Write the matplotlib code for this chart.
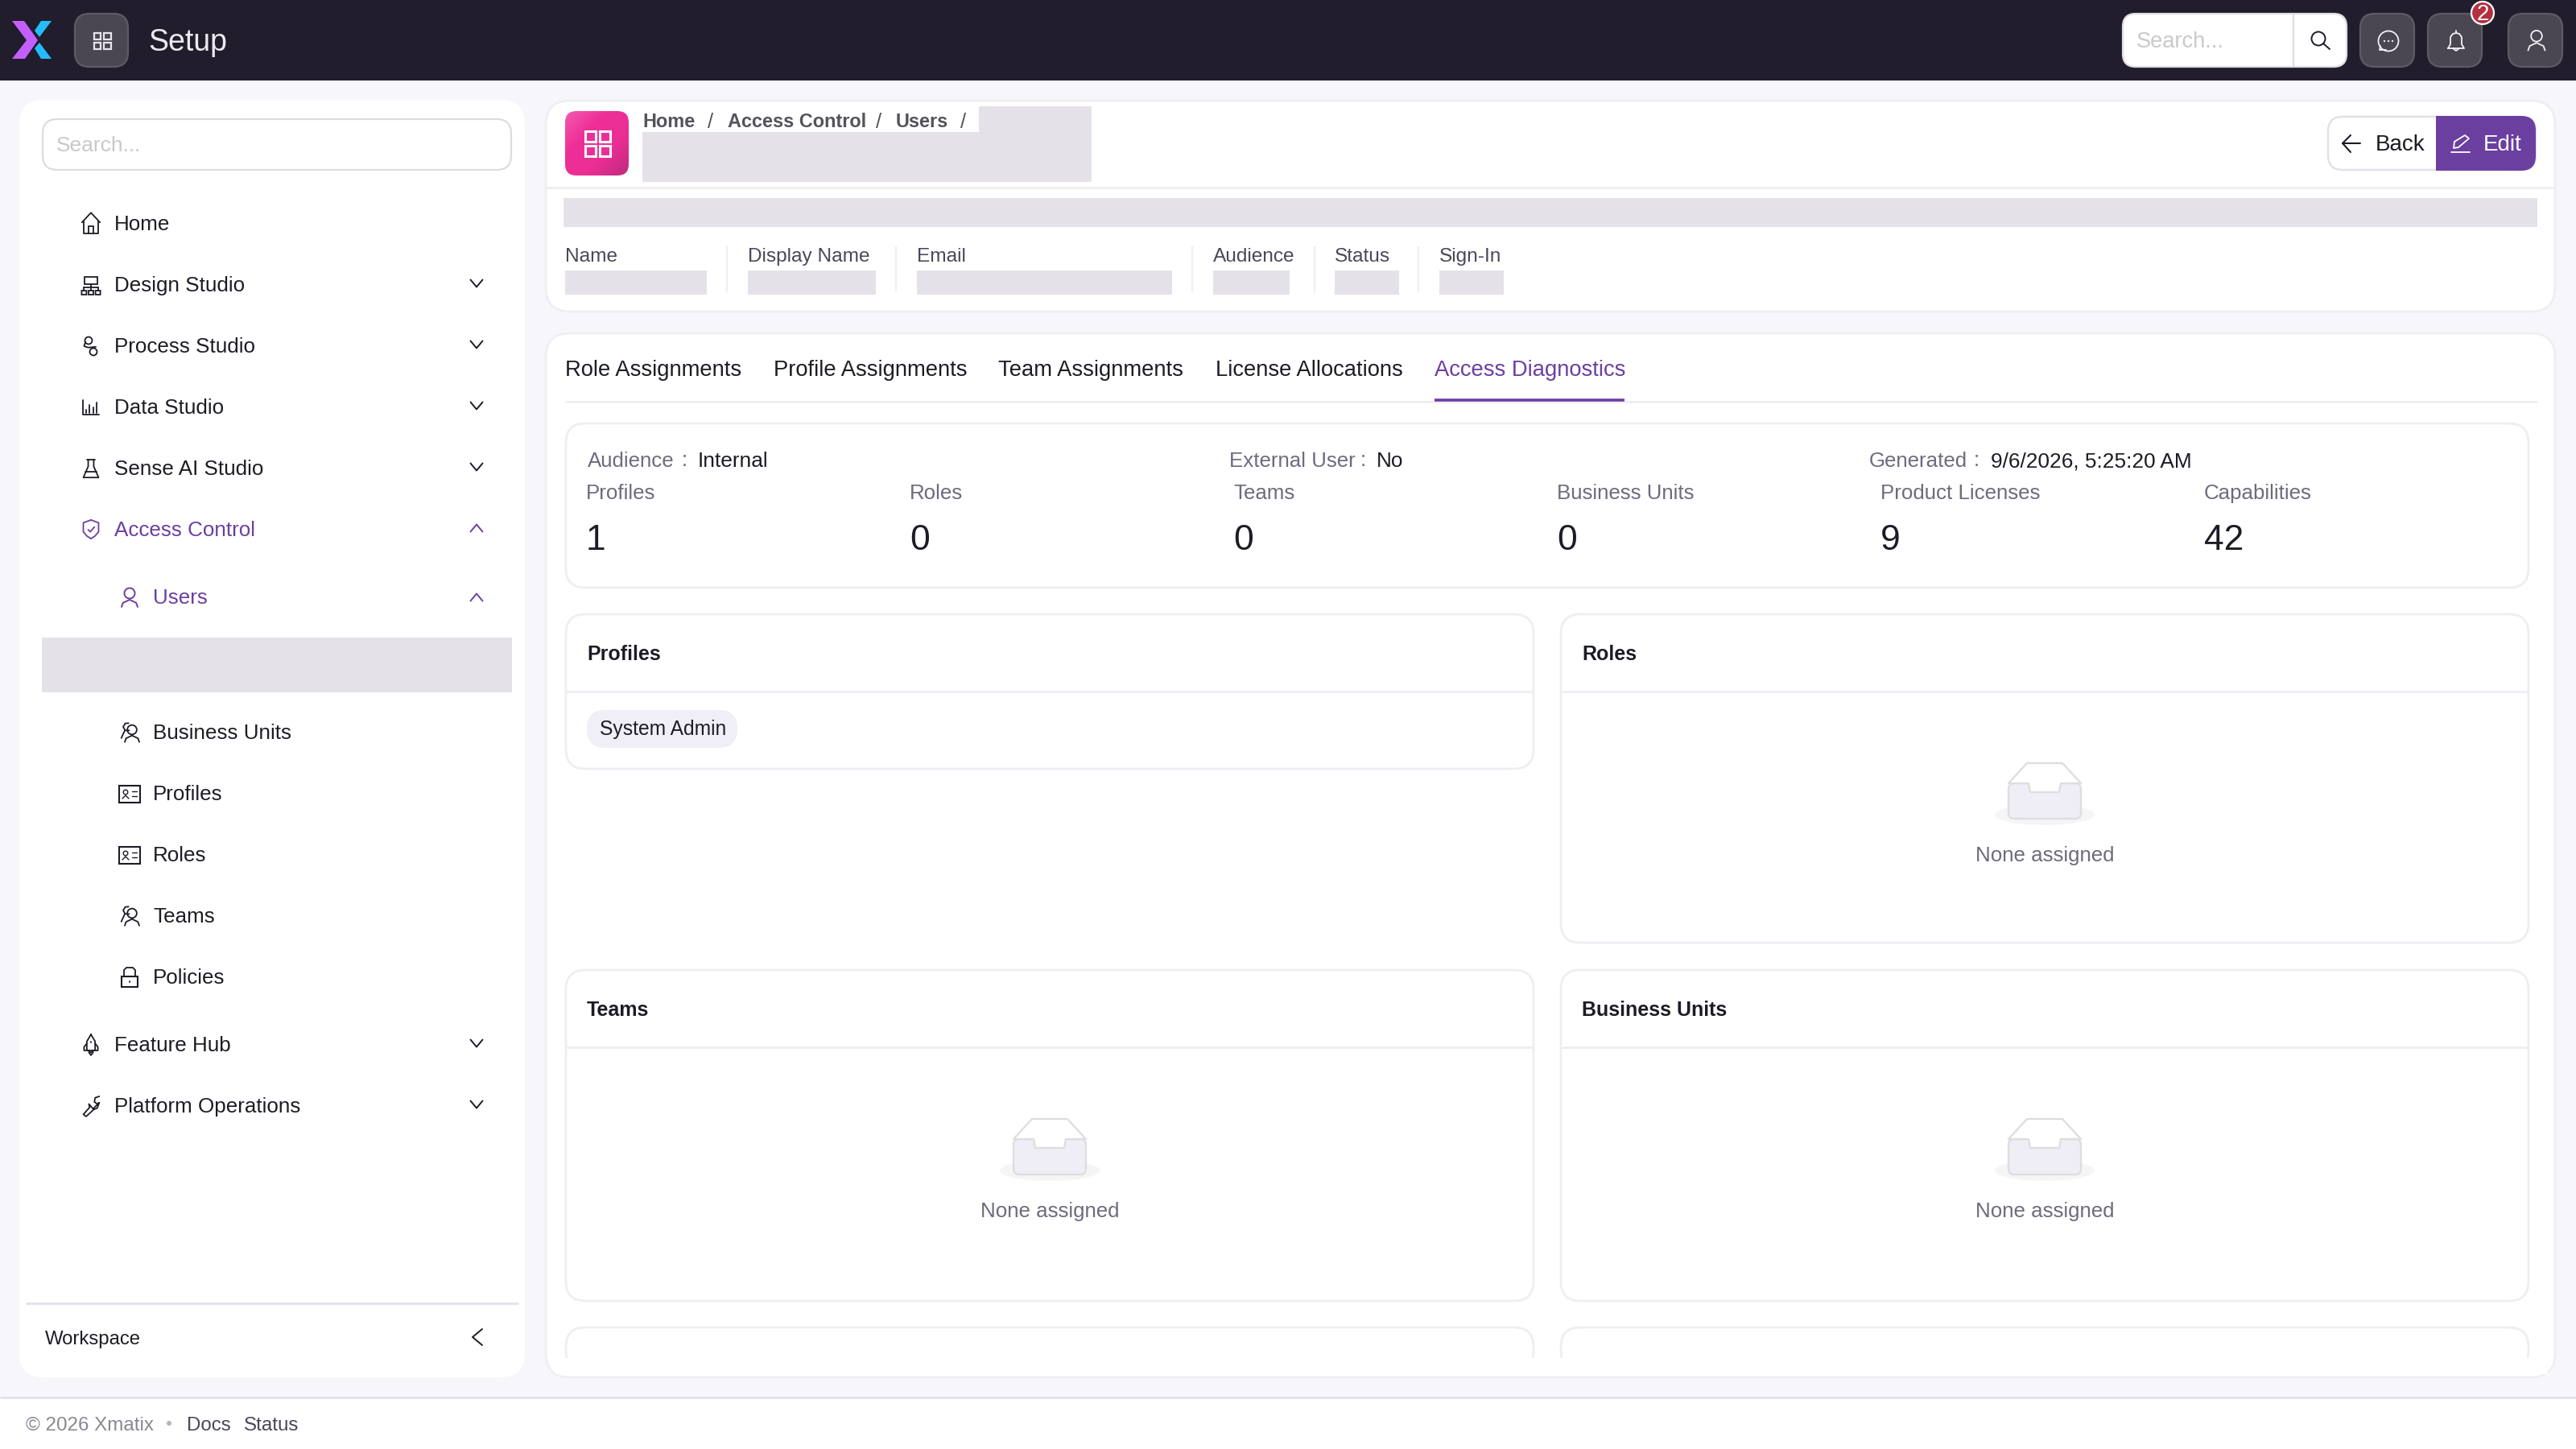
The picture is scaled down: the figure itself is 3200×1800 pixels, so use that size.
import numpy as np
import matplotlib
matplotlib.use('Agg')
import matplotlib.pyplot as plt
from matplotlib.patches import FancyBboxPatch, Rectangle, Polygon, Circle, Ellipse
from matplotlib.colors import LinearSegmentedColormap

plt.rcParams['font.family'] = ['Liberation Sans', 'DejaVu Sans']

# text content of the screen
nav_main = ['Home', 'Design Studio', 'Process Studio', 'Data Studio', 'Sense AI Studio',
            'Access Control', 'Feature Hub', 'Platform Operations']
nav_main_y = [277, 353, 429, 505, 581, 657, 1297, 1373]
nav_icons = ['home', 'design', 'process', 'chart', 'flask', 'shield', 'rocket', 'wrench']
nav_sub = ['Users', 'Business Units', 'Profiles', 'Roles', 'Teams', 'Policies']
nav_sub_y = [741, 909, 985, 1061, 1137, 1213]
sub_icons = ['user', 'users', 'card', 'card', 'users', 'lock']

crumbs = ['Home', 'Access Control', 'Users']
crumb_x = [798, 904, 1113]
crumb_sep_x = [883, 1092, 1197]

field_labels = ['Name', 'Display Name', 'Email', 'Audience', 'Status', 'Sign-In']
field_x = [702, 929, 1139, 1507, 1658, 1788]
field_end = [878, 1088, 1456, 1602, 1738, 1868]
field_sep = [903, 1113, 1481, 1633, 1762]

tabs = ['Role Assignments', 'Profile Assignments', 'Team Assignments', 'License Allocations',
        'Access Diagnostics']
tab_x = [702, 961, 1240, 1510, 1782]

meta_keys = ['Audience', 'External User', 'Generated']
meta_vals = ['Internal', 'No', '9/6/2026, 5:25:20 AM']
meta_key_x = [730, 1527, 2322]
meta_colon_x = [847, 1690, 2452]
meta_val_x = [867, 1710, 2473]

stat_names = ['Profiles', 'Roles', 'Teams', 'Business Units', 'Product Licenses', 'Capabilities']
stat_values = [1, 0, 0, 0, 9, 42]
stat_x = [728, 1130, 1532, 1934, 2336, 2738]

DARK = '#1e1b26'
GREY = '#6f6a7c'
MID = '#4b4757'
PURPLE = '#6b3fa0'
EDGE = '#eeeef3'
REDACT = '#e4e2e8'
HEAD = '#211d2c'
BTN = '#4a4652'
BTN_E = '#5f5b66'

fig = plt.figure(figsize=(16, 9), dpi=200, facecolor='#f7f7fb')
ax = fig.add_axes([0, 0, 1, 1])
ax.set_xlim(0, 3200)
ax.set_ylim(1800, 0)
ax.axis('off')


def rbox(x0, y0, x1, y1, r, fc='white', ec='none', lw=1.0, z=2):
    p = FancyBboxPatch((x0, y0), x1-x0, y1-y0, boxstyle='round,pad=0,rounding_size=%d' % r,
                       fc=fc, ec=ec, lw=lw, zorder=z)
    ax.add_patch(p)
    return p


def rect(x0, y0, x1, y1, fc=REDACT, z=3):
    ax.add_patch(Rectangle((x0, y0), x1-x0, y1-y0, fc=fc, ec='none', zorder=z))


def hline(x0, x1, y, c=EDGE, lw=1.0, z=3):
    ax.plot([x0, x1], [y, y], color=c, lw=lw, zorder=z, solid_capstyle='butt')


def vline(x, y0, y1, c=EDGE, lw=0.8, z=3):
    ax.plot([x, x], [y0, y1], color=c, lw=lw, zorder=z, solid_capstyle='butt')


def txt(x, cy, s, size=9.35, c=DARK, weight='normal', ha='left', z=4):
    # cy is the middle of the capitals, so sit the baseline a bit under it
    return ax.text(x, cy + size*2.78*0.36, s, fontsize=size, color=c, fontweight=weight, ha=ha,
                   va='baseline', zorder=z)


def stroke(xs, ys, c=DARK, lw=0.65, z=5):
    ax.plot(xs, ys, color=c, lw=lw, zorder=z, solid_capstyle='round', solid_joinstyle='round')


def ring(cx, cy, r, c=DARK, lw=0.65, fc='none', z=5):
    ax.add_patch(Circle((cx, cy), r, fc=fc, ec=c, lw=lw, zorder=z))


def square(x0, y0, x1, y1, c=DARK, lw=0.65, r=1, z=5):
    rbox(x0, y0, x1, y1, r, fc='none', ec=c, lw=lw, z=z)


def grid_icon(cx, cy, half, gap, c, lw):
    for sx in (-1, 1):
        for sy in (-1, 1):
            xa, xb = sorted([cx + sx*gap, cx + sx*half])
            ya, yb = sorted([cy + sy*gap, cy + sy*half])
            ax.add_patch(Rectangle((xa, ya), xb-xa, yb-ya, fc='none', ec=c, lw=lw, zorder=6))


def chevron(cx, cy, d='down', c=DARK, w=7.5, h=4.5, lw=0.7):
    if d == 'down':
        stroke([cx-w, cx, cx+w], [cy-h, cy+h, cy-h], c, lw)
    elif d == 'up':
        stroke([cx-w, cx, cx+w], [cy+h, cy-h, cy+h], c, lw)
    else:
        stroke([cx+w, cx-w, cx+w], [cy-h, cy, cy+h], c, lw)


def person(cx, cy, c, lw=0.7, s=1.0):
    ring(cx, cy-5*s, 6.5*s, c, lw)
    t = np.radians(np.array([180, 215, 270, 325, 360]))
    stroke(cx + 10*s*np.cos(t), cy + 12*s + 9*s*np.sin(t), c, lw)


def draw_icon(name, x, y, c=DARK):
    # icon shapes are sketched on a grid and shrunk to the menu size
    s = 0.86

    def X(*v):
        return [x + s*a for a in v]

    def Y(*v):
        return [y + s*a for a in v]

    if name == 'home':
        stroke(X(-13, 0, 13), Y(-2, -16, -2), c)
        stroke(X(-10, -10, 10, 10), Y(-4, 14, 14, -4), c)
        stroke(X(-4, -4, 4, 4), Y(14, 3, 3, 14), c)
    elif name == 'design':
        square(x-8, y-10, x+8, y-1, c, r=0)
        stroke(X(0, 0), Y(-1, 4), c)
        stroke(X(-10, 10), Y(4, 4), c)
        for dx in (-10, 0, 10):
            stroke(X(dx, dx), Y(4, 8), c)
            square(x+s*dx-3, y+7, x+s*dx+3, y+12, c, r=0)
    elif name == 'process':
        ring(x-3, y-7, 4.5, c)
        ring(x+3, y+7, 4.5, c)
        stroke(X(-8, -10, -4, 7), Y(-6, 0, 2, 1), c)
    elif name == 'chart':
        stroke(X(-12, -12, 12), Y(-11, 11, 11), c)
        for dx, top in zip((-7, -2, 3, 8), (3, -3, 0, -7)):
            stroke(X(dx, dx), Y(8, top), c)
    elif name == 'flask':
        stroke(X(-6, 6), Y(-13, -13), c)
        stroke(X(-4, -4, -11, 11, 4, 4), Y(-13, -3, 13, 13, -3, -13), c)
        stroke(X(-8, 8), Y(5, 5), c)
    elif name == 'shield':
        stroke(X(0, 11, 11, 6, 0, -6, -11, -11, 0), Y(-14, -10, 3, 9, 13, 9, 3, -10, -14), c)
        stroke(X(-4, -1, 5), Y(0, 3, -4), c)
    elif name == 'user':
        person(x, y, c)
    elif name == 'users':
        person(x+3, y+1, c, 0.65, 0.9)
        t = np.radians(np.array([60, 120, 180, 240, 290]))
        stroke(x-3 + 5*np.cos(t), y-7 + 5*np.sin(t), c)
        stroke(X(-7, -12), Y(-3, 8), c)
    elif name == 'card':
        square(x-13, y-10, x+13, y+11, c, lw=0.75, r=0)
        ring(x-5, y-2, 2.8, c, 0.5)
        stroke([x-9, x-5, x-1], [y+6, y+2, y+6], c, 0.5)
        stroke([x+3, x+9], [y-3, y-3], c, 0.5)
        stroke([x+3, x+9], [y+3, y+3], c, 0.5)
    elif name == 'lock':
        square(x-10, y-1, x+10, y+12, c, lw=0.75, r=0)
        stroke([x-7, x-7, x-4, x+4, x+7, x+7], [y-1, y-9, y-12, y-12, y-9, y-1], c)
        stroke([x, x], [y+5, y+6], c)
    elif name == 'rocket':
        stroke(X(0, 6, 6, 0, -6, -6, 0), Y(-15, -5, 7, 11, 7, -5, -15), c)
        stroke(X(-6, -10, -10, 10, 10, 6), Y(-2, 3, 8, 8, 3, -2), c)
        stroke(X(0, 0), Y(-5, -3), c)
        stroke(X(-3, 0, 3), Y(11, 15, 11), c)
    elif name == 'wrench':
        stroke(X(12, 6, 5, 9, 12, 3, -3, -2, -11, -7, 4, 9, 12),
               Y(-14, -12, -6, -3, -5, 4, -3, 2, 12, 15, 5, 3, -5), c)


def panel(x0, x1, y0, y1, title, empty=True, line=True):
    rbox(x0, y0, x1, y1, 24, 'white', EDGE)
    if line:
        hline(x0, x1, y0+96)
    title_text = txt(x0+26, y0+48, title, 9.0, DARK, 'bold')
    if not empty:
        return title_text
    cx = (x0+x1)/2
    ax.add_patch(Ellipse((cx, y0+249), 124, 26, fc='#f5f5f5', ec='none', zorder=3))
    rbox(cx-45, y0+210, cx+45, y0+254, 7, '#efeef7', '#dedede', 0.85, z=4)
    ax.add_patch(Polygon([(cx-45, y0+210), (cx-22, y0+185), (cx+22, y0+185), (cx+45, y0+210), (cx+20, y0+210), (cx+18, y0+221), (cx-18, y0+221), (cx-20, y0+210)],
                         fc='white', ec='#dedede', lw=0.85, zorder=5, joinstyle='round'))
    txt(cx, y0+298, 'None assigned', 9.3, GREY, ha='center')
    return title_text


# header bar
rect(0, 0, 3200, 100, HEAD, z=1)
ax.add_patch(Polygon([(15, 26), (30, 26), (47, 50), (31, 73), (15, 73), (33, 50)], fc='#c45fff', ec='none', zorder=3))
ax.add_patch(Polygon([(51, 26), (64, 26), (49, 46), (43, 38)], fc='#25bcff', ec='none', zorder=3))
ax.add_patch(Polygon([(43, 60), (49, 53), (64, 73), (51, 73)], fc='#25bcff', ec='none', zorder=3))
rbox(93, 17, 159, 83, 18, BTN, BTN_E, 0.8)
grid_icon(127, 51, 10.5, 1.8, '#e8e6ec', 0.8)
txt(184, 49, 'Setup', 13.5, '#ece9f0')

rbox(2637, 17, 2915, 83, 16, 'white', '#dedde3', 0.8)
vline(2849, 18, 82, '#dedde3', 0.8)
txt(2654, 49, 'Search...', 9.8, '#c9c9c9')
ring(2880, 48, 8.5, DARK, 0.7)
stroke([2886, 2894], [54, 61], DARK, 0.7)
for x0 in (2932, 3016, 3116):
    rbox(x0, 17, x0+67, 83, 18, BTN, BTN_E, 0.8)
ring(2967, 51, 12.5, '#f2f0f5', 0.65)
stroke([2957, 2956, 2964], [57, 62, 62], '#f2f0f5', 0.65)
for dx in (-5, 0, 5):
    ring(2967+dx, 51, 0.5, '#f2f0f5', 0.5)
stroke([3041, 3044, 3044, 3047, 3051, 3055, 3058, 3058, 3061, 3041], [60, 55, 46, 42, 41, 42, 46, 55, 60, 60], '#f2f0f5', 0.65)
stroke([3051, 3051], [38, 41], '#f2f0f5', 0.65)
stroke([3047, 3051, 3055], [60, 63, 60], '#f2f0f5', 0.65)
person(3151, 50, '#f2f0f5', 0.65, 1.05)
ax.add_patch(Circle((3084, 16), 14, fc='#b3303f', ec='white', lw=0.8, zorder=6))
txt(3084, 15, '2', 10, 'white', ha='center', z=7)

# left menu
rbox(24, 124, 652, 1711, 30)
rbox(53, 148, 635, 211, 18, 'white', '#dcdcdc', 0.8, z=3)
txt(70, 178, 'Search...', 9.5, '#c9c9c9')
for name, y, icon in zip(nav_main, nav_main_y, nav_icons):
    c = PURPLE if name == 'Access Control' else DARK
    txt(142, y, name, 9.35, c)
    draw_icon(icon, 113, y+1, c)
    if name == 'Home':
        continue
    chevron(592, y-1, 'up' if name == 'Access Control' else 'down', c)
rect(52, 792, 636, 860)
for name, y, icon in zip(nav_sub, nav_sub_y, sub_icons):
    c = PURPLE if name == 'Users' else DARK
    txt(190, y, name, 9.35, c)
    draw_icon(icon, 161, y+1, c)
chevron(592, 742, 'up', PURPLE)
hline(32, 644, 1619, '#e2e0ea')
txt(56, 1661, 'Workspace', 8.6)
chevron(593, 1661, 'left', DARK, w=6, h=10)

# footer
rect(0, 1736, 3200, 1800, 'white', z=1)
hline(0, 3200, 1736, '#e2e0ea')
txt(32, 1768, '\u00a9 2026 Xmatix', 8.7, '#8b8794')
ax.add_patch(Circle((210, 1768), 3, fc='#b5b3bb', ec='none', zorder=4))
txt(232, 1768, 'Docs', 8.7, MID)
txt(303, 1768, 'Status', 8.7, MID)

# record header card
rbox(678, 125, 3174, 387, 30, 'white', EDGE)
hline(678, 3174, 233)
rect(700, 246, 3152, 282)
cmap = LinearSegmentedColormap.from_list('pink', ['#f45aae', '#ee2f98', '#ea2e94', '#bd2a7e'])
grad = np.linspace(0, 1, 80)[None, :] * 0.5 + np.linspace(0, 1, 80)[:, None] * 0.5
im = ax.imshow(grad, extent=(702, 781, 218, 138), cmap=cmap, zorder=3, aspect='auto')
im.set_clip_path(rbox(702, 138, 781, 218, 14, 'none', 'none', z=3))
ax.set_xlim(0, 3200)
ax.set_ylim(1800, 0)
grid_icon(742, 178, 15.5, 2.5, 'white', 1.1)
for s, x in zip(crumbs, crumb_x):
    txt(x, 150, s, 8.45, '#55525c', 'bold')
for x in crumb_sep_x:
    txt(x, 150, '/', 9.2, '#55525c', ha='center')
rect(1216, 132, 1356, 226)
rect(798, 164, 1356, 226)
for s, x, x1 in zip(field_labels, field_x, field_end):
    txt(x, 316, s, 8.8, MID)
    rect(x, 336, x1, 366)
for x in field_sep:
    vline(x, 306, 362)
rbox(2892, 145, 3150, 211, 18, 'white', '#e2e0ea', 0.9)
rbox(3026, 144, 3150, 212, 18, PURPLE, 'none', z=3)
rect(3026, 144, 3050, 212, PURPLE, z=3)
stroke([2932, 2910], [178, 178], DARK, 0.75)
stroke([2920, 2910, 2920], [168, 178, 189], DARK, 0.75)
txt(2951, 177, 'Back', 10, DARK)
stroke([3045, 3068], [189, 189], 'white', 0.65)
stroke([3049, 3062, 3067, 3054, 3048, 3049], [176, 168, 172, 183, 184, 176], 'white', 0.65)
txt(3085, 177, 'Edit', 10, 'white')

# tabs card
rbox(678, 414, 3174, 1711, 30, 'white', EDGE)
for s, x in zip(tabs, tab_x):
    txt(x, 457, s, 9.85, PURPLE if s == 'Access Diagnostics' else DARK)
hline(702, 3152, 499)
hline(1782, 2018, 497, PURPLE, 1.3, z=4)

# summary card
rbox(703, 526, 3141, 730, 24, 'white', EDGE)
for k, cx, vx, v, kx in zip(meta_keys, meta_colon_x, meta_val_x, meta_vals, meta_key_x):
    txt(kx, 571, k, 9.3, GREY)
    txt(cx, 570, ':', 9.3, GREY)
    txt(vx, 571, v, 9.45, DARK)
for s, v, x in zip(stat_names, stat_values, stat_x):
    txt(x, 611, s, 9.3, GREY)
    txt(x, 667, str(v), 16, DARK)

panel(703, 1905, 763, 955, 'Profiles', empty=False)
panel(1939, 3141, 763, 1171, 'Roles')
panel(703, 1905, 1205, 1616, 'Teams')
panel(1939, 3141, 1205, 1616, 'Business Units')
rbox(729, 882, 916, 929, 23, '#f0eef6', 'none', z=3)
txt(745, 904, 'System Admin', 8.85, DARK)

# third row is cut off by the scroll area, titles only show their tops
scroll_clip = Rectangle((690, 1600), 2475, 87, transform=ax.transData)
for x0, x1, title in [(703, 1905, 'Product Licenses'), (1939, 3141, 'Capabilities')]:
    t = panel(x0, x1, 1649, 1702, title, empty=False, line=False)
    t.set_clip_path(scroll_clip)
    t.set_clip_on(True)
rect(690, 1687, 3165, 1707, 'white', z=5)

fig.savefig('out.png', dpi=200, facecolor=fig.get_facecolor())
